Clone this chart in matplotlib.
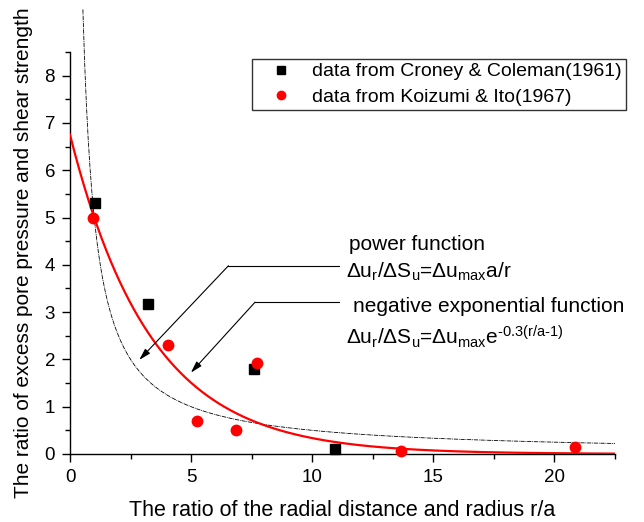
import numpy as np
import matplotlib
matplotlib.use("Agg")
import matplotlib.pyplot as plt
from matplotlib.ticker import MultipleLocator

plt.rcParams['font.family'] = ['Liberation Sans', 'DejaVu Sans']
plt.rcParams['mathtext.fontset'] = 'custom'
plt.rcParams['mathtext.rm'] = 'Liberation Sans'
plt.rcParams['mathtext.it'] = 'Liberation Sans'

# Data
croney_x = [1.03, 3.24, 7.6, 10.92]
croney_y = [5.31, 3.17, 1.80, 0.10]
koizumi_x = [0.96, 4.04, 5.23, 6.85, 7.7, 13.66, 20.83]
koizumi_y = [4.98, 2.30, 0.70, 0.51, 1.93, 0.06, 0.14]

# Model curve parameters (from the formulas on the chart)
du_max = 5.0
decay = 0.3

fig = plt.figure(figsize=(6.44, 5.22), dpi=100)
ax = fig.add_axes([70/644, (522-454)/522, 545/644, (454-52)/522])

# Power function: du_max * a/r
xp = np.linspace(du_max/9.4, 22.5, 600)
ax.plot(xp, du_max / xp, color='black', lw=0.6, ls=(0, (5, 1, 1, 1)),
        clip_on=False, zorder=2)
# Negative exponential function
xe = np.linspace(0, 22.5, 600)
ax.plot(xe, du_max * np.exp(-decay * (xe - 1)), color='#ff0000', lw=1.6, zorder=3)

ax.plot(croney_x, croney_y, 's', color='black', ms=6.5, ls='none',
        label='data from Croney & Coleman(1961)', zorder=4, clip_on=False)
ax.plot(koizumi_x, koizumi_y, 'o', color='#ff0000', ms=7.5, ls='none',
        label='data from Koizumi & Ito(1967)', zorder=5, clip_on=False)

ax.set_xlim(0, 22.5)
ax.set_ylim(0, 8.5)
ax.spines['top'].set_visible(False)
ax.spines['right'].set_visible(False)
ax.xaxis.set_major_locator(MultipleLocator(5))
ax.xaxis.set_minor_locator(MultipleLocator(2.5))
ax.yaxis.set_major_locator(MultipleLocator(1))
ax.yaxis.set_minor_locator(MultipleLocator(0.5))
ax.tick_params(which='major', direction='out', length=5.8, width=1, labelsize=13.5, pad=5)
ax.tick_params(which='minor', direction='out', length=3.4, width=1)
for s in ['left', 'bottom']:
    ax.spines[s].set_linewidth(1)

ax.set_xlabel('The ratio of the radial distance and radius r/a', fontsize=15.5, labelpad=10)
ax.set_ylabel('The ratio of excess pore pressure and shear strength', fontsize=15, labelpad=8)

leg = ax.legend(loc='upper left', bbox_to_anchor=(252/644, 1 - 59/522), bbox_transform=fig.transFigure,
                frameon=True, fancybox=False, edgecolor='black', fontsize=14,
                handletextpad=0.3, borderpad=0.2, labelspacing=0.4, markerscale=0.8,
                handlelength=2.6, borderaxespad=0)
leg.get_frame().set_linewidth(1)

# Annotation arrows
ax.plot([6.54, 11.12], [3.98, 3.98], color='black', lw=0.8)
ax.annotate('', xy=(2.86, 1.99), xytext=(6.54, 3.98),
            arrowprops=dict(arrowstyle='-|>,head_length=0.7,head_width=0.2', color='black', lw=0.8,
                            shrinkA=0, shrinkB=0))
ax.plot([7.64, 11.12], [3.21, 3.21], color='black', lw=0.8)
ax.annotate('', xy=(4.99, 1.72), xytext=(7.64, 3.21),
            arrowprops=dict(arrowstyle='-|>,head_length=0.7,head_width=0.2', color='black', lw=0.8,
                            shrinkA=0, shrinkB=0))

fs = 15
ax.text(11.5, 4.42, 'power function', fontsize=fs, va='center', ha='left')
ax.text(11.4, 3.86, r'$\Delta$u$_{\rm r}$/$\Delta$S$_{\rm u}$=$\Delta$u$_{\rm max}$a/r',
        fontsize=fs, va='center', ha='left')
ax.text(11.7, 3.11, 'negative exponential function', fontsize=fs, va='center', ha='left')
ax.text(11.4, 2.47, r'$\Delta$u$_{\rm r}$/$\Delta$S$_{\rm u}$=$\Delta$u$_{\rm max}$e$^{\text{-0.3(r/a-1)}}$',
        fontsize=fs, va='center', ha='left')

fig.savefig('out.png', dpi=100)
